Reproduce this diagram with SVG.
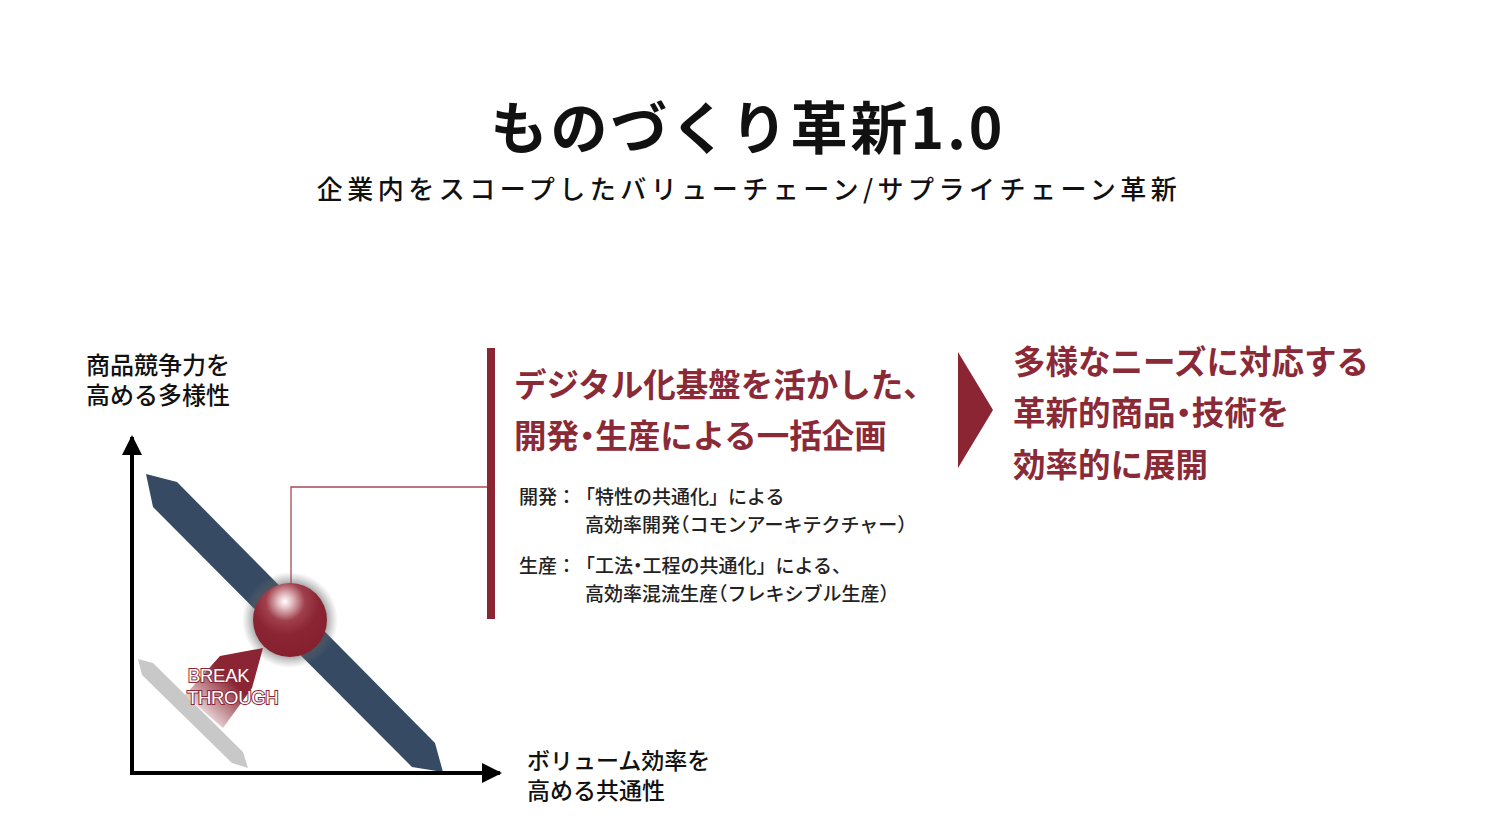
<svg xmlns="http://www.w3.org/2000/svg" width="1500" height="837" viewBox="0 0 1500 837">
<defs>
<style>
.jp{font-family:"Noto Sans CJK JP","Noto Sans",sans-serif;}
.ttl{font-size:57px;font-weight:700;fill:#111;letter-spacing:3px;}
.sub{font-size:26px;font-weight:500;fill:#111;letter-spacing:4.5px;}
.ax{font-size:24px;font-weight:500;fill:#111;}
.ax2{font-size:23px;font-weight:500;fill:#111;}
.hd{font-size:32.5px;font-weight:700;fill:#8b2a37;}
.bd{font-size:19px;font-weight:500;fill:#222;}
.rt{font-size:32.5px;font-weight:700;fill:#8b2a37;}
.h{font-feature-settings:"halt" 1;}
.bt{font-family:"Liberation Sans",Arial,sans-serif;font-size:18.5px;fill:#fff;stroke:#8b2533;stroke-width:2px;paint-order:stroke;letter-spacing:-0.3px;}
</style>
<radialGradient id="sph" cx="0.45" cy="0.25" r="0.75" fx="0.43" fy="0.25">
<stop offset="0" stop-color="#ffffff"/>
<stop offset="0.12" stop-color="#e6c2c6"/>
<stop offset="0.35" stop-color="#a0404c"/>
<stop offset="0.6" stop-color="#8b2533"/>
<stop offset="1" stop-color="#861f2e"/>
</radialGradient>
<radialGradient id="glow" cx="0.5" cy="0.5" r="0.5">
<stop offset="0.7" stop-color="#555" stop-opacity="0.65"/>
<stop offset="1" stop-color="#777" stop-opacity="0"/>
</radialGradient>
<linearGradient id="btg" x1="263" y1="650" x2="195" y2="720" gradientUnits="userSpaceOnUse">
<stop offset="0" stop-color="#8b2533"/>
<stop offset="0.45" stop-color="#8b2533"/>
<stop offset="1" stop-color="#8b2533" stop-opacity="0"/>
</linearGradient>
<marker id="arr" viewBox="0 0 10 10" refX="9" refY="5" markerWidth="5" markerHeight="5" orient="auto" markerUnits="strokeWidth">
<path d="M0,0 L10,5 L0,10 z" fill="#000"/>
</marker>
</defs>
<rect width="1500" height="837" fill="#fff"/>

<g id="title">
<text class="jp ttl" x="748" y="149" text-anchor="middle">ものづくり革新1.0</text>
<text class="jp sub" x="749" y="199" text-anchor="middle">企業内をスコープしたバリューチェーン/サプライチェーン革新</text>
</g>

<g id="chart">
<polygon id="grayband" points="138,659 153,663 243,752 248,768 232,763 142,675" fill="#c8c8c8"/>
<polygon id="blueband" points="146,474 177,482 435,743 443,772 412,767 153,507" fill="#364a63"/>
<circle cx="290" cy="620" r="48" fill="url(#glow)"/>
<circle id="sphere" cx="290" cy="620" r="37" fill="url(#sph)"/>
<polygon id="btarrow" points="263,648 220,656 185,695 223,728 252,688" fill="url(#btg)"/>
<text class="bt" x="188" y="682">BREAK</text>
<text class="bt" x="187" y="704">THROUGH</text>
</g>

<g id="connectors">
<line x1="132" y1="775" x2="132" y2="437" stroke="#000" stroke-width="4" marker-end="url(#arr)"/>
<line x1="130" y1="773" x2="500" y2="773" stroke="#000" stroke-width="4" marker-end="url(#arr)"/>
<polyline points="291,583 291,487 488,487" fill="none" stroke="#a84a55" stroke-width="1.3"/>
</g>

<g id="axis-labels">
<text class="jp ax" x="86" y="374">商品競争力を</text>
<text class="jp ax" x="86" y="404">高める多様性</text>
<text class="jp ax2" x="527" y="769">ボリューム効率を</text>
<text class="jp ax2" x="527" y="799">高める共通性</text>
</g>

<g id="center-block">
<rect x="487" y="348" width="8" height="271" fill="#8b2533"/>
<text class="jp hd" x="514" y="397">デジタル化基盤を活かした、</text>
<text class="jp hd" x="514" y="448">開発<tspan class="h">・</tspan>生産による一括企画</text>
<text class="jp bd" x="519" y="504">開発：</text>
<text class="jp bd" x="576" y="504">「特性の共通化」による</text>
<text class="jp bd" x="585" y="532">高効率開発<tspan class="h">（</tspan>コモンアーキテクチャー）</text>
<text class="jp bd" x="519" y="573">生産：</text>
<text class="jp bd" x="576" y="573">「工法<tspan class="h">・</tspan>工程の共通化」による、</text>
<text class="jp bd" x="585" y="601">高効率混流生産<tspan class="h">（</tspan>フレキシブル生産）</text>
</g>

<g id="result-block">
<polygon points="958,352 993,410 958,468" fill="#8b2533"/>
<text class="jp rt" x="1013" y="374">多様なニーズに対応する</text>
<text class="jp rt" x="1013" y="425">革新的商品<tspan class="h">・</tspan>技術を</text>
<text class="jp rt" x="1013" y="477">効率的に展開</text>
</g>
</svg>
